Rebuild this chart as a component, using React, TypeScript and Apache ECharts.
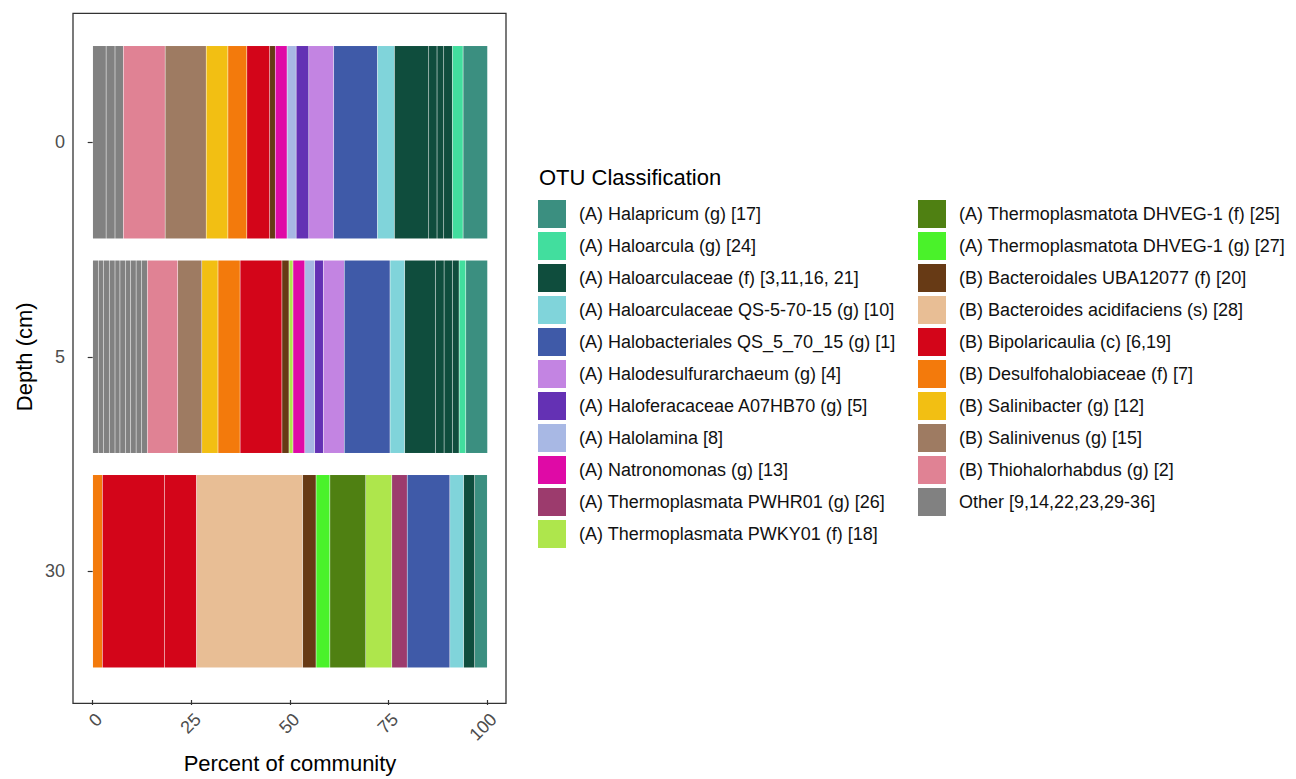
import React, { useEffect, useRef } from 'react';
import * as echarts from 'echarts';

// Depth categories (cm) and x tick labels
const depths = ['0', '5', '30'];
const xTicks = [0, 25, 50, 75, 100];

// Percent of community per depth [0 cm, 5 cm, 30 cm]
// Other [9,14,22,23,29-36] – individual OTUs
const other9 = [3.4, 1.43, 0];
const other14 = [2.25, 1.27, 0];
const other22 = [2.11, 1.5, 0];
const other23 = [0, 1.45, 0];
const other29 = [0, 1.25, 0];
const other30 = [0, 1.46, 0];
const other31 = [0, 1.24, 0];
const other32 = [0, 1.4, 0];
const other33 = [0, 1.4, 0];
const other34 = [0, 1.45, 0];
const thiohalorhabdus = [10.6, 7.7, 0];
const salinivenus = [10.4, 6.1, 0];
const salinibacter = [5.5, 4.1, 0];
const desulfohalobiaceae = [4.8, 5.6, 2.45];
const bipolaricaulia6 = [5.8, 10.6, 15.75];
const bipolaricaulia19 = [0, 0, 8.1];
const bacteroidesAcidifaciens = [0, 0, 26.9];
const bacteroidalesUBA12077 = [1.4, 1.8, 3.4];
const dhveg1Genus = [0, 0, 3.5];
const dhveg1Family = [0, 0, 9.1];
const pwky01 = [0, 1.0, 6.6];
const pwhr01 = [0, 0, 3.9];
const natronomonas = [3.0, 3.0, 0];
const halolamina = [2.3, 2.5, 0];
const haloferacaceae = [3.2, 2.2, 0];
const halodesulfurarchaeum = [6.3, 5.3, 0];
const halobacteriales = [11.1, 11.6, 10.8];
const qs57015 = [4.3, 3.7, 3.5];
const haloarculaceae3 = [8.7, 7.8, 2.8];
const haloarculaceae11 = [2.1, 2.2, 0];
const haloarculaceae16 = [1.7, 2.1, 0];
const haloarculaceae21 = [2.2, 1.7, 0];
const haloarcula = [2.7, 1.7, 0];
const halapricum = [6.2, 5.6, 3.2];

// Taxa in stacking order (left to right)
const taxa = [
  { name: 'Other [9,14,22,23,29-36]', color: '#818181', parts: [other9, other14, other22, other23, other29, other30, other31, other32, other33, other34] },
  { name: '(B) Thiohalorhabdus (g) [2]', color: '#E08294', parts: [thiohalorhabdus] },
  { name: '(B) Salinivenus (g) [15]', color: '#9E7B62', parts: [salinivenus] },
  { name: '(B) Salinibacter (g) [12]', color: '#F2BF13', parts: [salinibacter] },
  { name: '(B) Desulfohalobiaceae (f) [7]', color: '#F37A0C', parts: [desulfohalobiaceae] },
  { name: '(B) Bipolaricaulia (c) [6,19]', color: '#D30519', parts: [bipolaricaulia6, bipolaricaulia19] },
  { name: '(B) Bacteroides acidifaciens (s) [28]', color: '#E8BE95', parts: [bacteroidesAcidifaciens] },
  { name: '(B) Bacteroidales UBA12077 (f) [20]', color: '#673A15', parts: [bacteroidalesUBA12077] },
  { name: '(A) Thermoplasmatota DHVEG-1 (g) [27]', color: '#4AF22A', parts: [dhveg1Genus] },
  { name: '(A) Thermoplasmatota DHVEG-1 (f) [25]', color: '#4F8012', parts: [dhveg1Family] },
  { name: '(A) Thermoplasmata PWKY01 (f) [18]', color: '#AEE64C', parts: [pwky01] },
  { name: '(A) Thermoplasmata PWHR01 (g) [26]', color: '#9C3B6D', parts: [pwhr01] },
  { name: '(A) Natronomonas (g) [13]', color: '#DF0AA6', parts: [natronomonas] },
  { name: '(A) Halolamina [8]', color: '#A8B8E4', parts: [halolamina] },
  { name: '(A) Haloferacaceae A07HB70 (g) [5]', color: '#6431B4', parts: [haloferacaceae] },
  { name: '(A) Halodesulfurarchaeum (g) [4]', color: '#C384E2', parts: [halodesulfurarchaeum] },
  { name: '(A) Halobacteriales QS_5_70_15 (g) [1]', color: '#3F5AA8', parts: [halobacteriales] },
  { name: '(A) Haloarculaceae QS-5-70-15 (g) [10]', color: '#80D4DA', parts: [qs57015] },
  { name: '(A) Haloarculaceae (f) [3,11,16, 21]', color: '#0F4D3D', parts: [haloarculaceae3, haloarculaceae11, haloarculaceae16, haloarculaceae21] },
  { name: '(A) Haloarcula (g) [24]', color: '#42DE9E', parts: [haloarcula] },
  { name: '(A) Halapricum (g) [17]', color: '#3B8F80', parts: [halapricum] },
];

const legendNames = taxa.map((t) => t.name).reverse();
const legendCol1 = legendNames.slice(0, 11);
const legendCol2 = legendNames.slice(11);

const FONT = '"Liberation Sans", Arial, Helvetica, sans-serif';

function buildOption() {
  const series: any[] = [];
  taxa.forEach((t) => {
    t.parts.forEach((vals) => {
      series.push({
        type: 'bar',
        name: t.name,
        stack: 'total',
        barWidth: '90%',
        itemStyle: { color: t.color, borderColor: 'rgba(255,255,255,0.09)', borderWidth: 0.5 },
        emphasis: { disabled: true },
        data: vals.map((v) => (v > 0 ? v : null)),
      });
    });
  });

  const legendCommon = {
    orient: 'vertical',
    top: 200,
    padding: 0,
    itemWidth: 28,
    itemHeight: 28,
    itemGap: 4,
    icon: 'rect',
    selectedMode: false,
    itemStyle: { borderWidth: 0 },
    textStyle: { fontSize: 18, color: '#111', fontFamily: FONT, padding: [0, 0, 0, 8] },
  };

  return {
    animation: false,
    backgroundColor: '#ffffff',
    grid: { left: 92.7, top: 35.1, width: 394.6, height: 647.3, containLabel: false },
    xAxis: {
      type: 'value',
      min: 0,
      max: 100,
      interval: 25,
      offset: 21.6,
      name: 'Percent of community',
      nameLocation: 'middle',
      nameGap: 52,
      nameTextStyle: { fontSize: 22, color: '#000', fontFamily: FONT },
      axisLine: { show: false },
      splitLine: { show: false },
      axisTick: { show: true, length: 5, lineStyle: { color: '#333', width: 1.2 } },
      axisLabel: {
        rotate: 45,
        margin: 10,
        align: 'right',
        verticalAlign: 'top',
        fontSize: 18,
        color: '#4D4D4D',
        fontFamily: FONT,
        customValues: xTicks,
      },
    },
    yAxis: {
      type: 'category',
      data: depths,
      inverse: true,
      offset: 19.7,
      name: 'Depth (cm)',
      nameLocation: 'middle',
      nameRotate: 90,
      nameGap: 38,
      nameTextStyle: { fontSize: 22, color: '#000', fontFamily: FONT },
      axisLine: { show: false },
      axisTick: { show: true, length: 5, alignWithLabel: true, lineStyle: { color: '#333', width: 1.2 } },
      axisLabel: { fontSize: 18, color: '#4D4D4D', fontFamily: FONT, margin: 8 },
      splitLine: { show: false },
    },
    legend: [
      { ...legendCommon, left: 538, data: legendCol1 },
      { ...legendCommon, left: 918, data: legendCol2 },
    ],
    graphic: [
      {
        type: 'rect',
        shape: { x: 73, y: 13.3, width: 433, height: 690 },
        style: { fill: 'none', stroke: '#333', lineWidth: 1.3 },
        silent: true,
        z: 100,
      },
      {
        type: 'text',
        left: 539,
        top: 166,
        style: { text: 'OTU Classification', fontSize: 22, fill: '#000', font: `22px ${FONT}` },
      },
    ],
    series,
  };
}

export default function App() {
  const ref = useRef<HTMLDivElement>(null);
  useEffect(() => {
    const chart = echarts.init(ref.current!, null, { renderer: 'svg' });
    chart.setOption(buildOption() as any);
    return () => chart.dispose();
  }, []);
  return (
    <div
      ref={ref}
      style={{ position: 'fixed', left: 0, top: 0, width: 1296, height: 779, background: '#fff' }}
    />
  );
}
